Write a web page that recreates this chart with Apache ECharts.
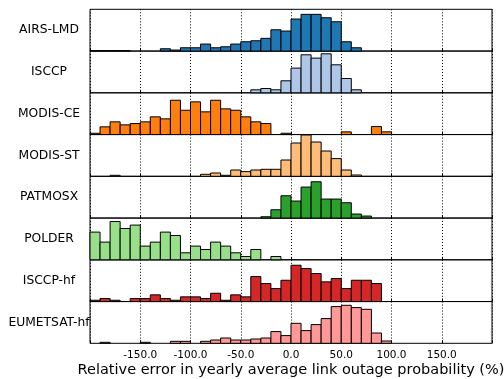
<!DOCTYPE html>
<html><head><meta charset="utf-8">
<script src="https://cdn.jsdelivr.net/npm/echarts@6/dist/echarts.min.js"></script>
<style>html,body{margin:0;padding:0;background:#fff}#c{width:504px;height:379px}</style>
</head><body><div id="c"></div>
<script>
// Bin starts (width 10 %)
const binStarts = [-200,-190,-180,-170,-160,-150,-140,-130,-120,-110,-100,-90,-80,-70,-60,-50,-40,-30,-20,-10,0,10,20,30,40,50,60,70,80,90,100,110,120,130,140,150,160,170,180,190];
const binWidth = 10;
const datasets = ['AIRS-LMD','ISCCP','MODIS-CE','MODIS-ST','PATMOSX','POLDER','ISCCP-hf','EUMETSAT-hf'];
const colors = ['#1f77b4','#aec7e8','#ff7f0e','#ffbb78','#2ca02c','#98df8a','#d62728','#ff9896'];
// relative frequencies (arbitrary units, panel max = 41.75)
const airsLmd  = [0.4,0.4,0.4,0.4,0,0,0,2.3,1,3.3,3.3,7,3.3,4.3,7,9.3,10.3,12.7,21.3,20,32,36.7,36.7,33.3,29.3,9.3,3.3,0,0,0,0,0,0,0,0,0,0,0,0,0];
const isccp    = [0,0,0,0,0,0,0,0,0,0,0,0,0,0,0,0,3,4.3,3,12,24.7,38,34.7,39,28,14.3,3,0,0,0,0,0,0,0,0,0,0,0,0,0];
const modisCe  = [1.3,7.7,12.7,9.7,11,12.7,17.7,15.7,34.3,24.3,32.7,22.7,34.3,25.7,24.3,17.7,12.7,11,0,1.3,0,0,0,0,0,2.7,0,0,8,2.7,0,0,0,0,0,0,0,0,0,0];
const modisSt  = [0,0,1,0,0,0,0,0,0,0,0,2,3.3,1,6.3,4.7,6.3,7,7,16.3,33.3,41.3,34.3,25.3,17.7,6.3,1.3,0,0,0,0,0,0,0,0,0,0,0,0,0];
const patmosx  = [0,0,0,0,0,0,0,0,0,0,0,0,0,0,0,0,0,1.3,8.3,22.3,17,31,36.3,19,19,15.3,4,2,0,0,0,0,0,0,0,0,0,0,0,0];
const polder   = [27.7,17.7,38.3,31.3,34.7,13.7,17.7,27.7,24.3,7,13.7,10.3,17.7,13.7,7,3.3,10.3,0,3.3,0,0,0,0,0,0,0,0,0,0,0,0,0,0,0,0,0,0,0,0,0];
const isccpHf  = [1.3,3,1.3,0,3,3,6.7,3,1.3,4.7,4.7,3,8.3,1.3,6.7,4.7,25,18,13,21.3,36.3,33,28,19.7,23,13,21.3,21.3,18,0,0,0,0,0,0,0,0,0,0,0];
const eumetsat = [0,1,0,0,0,1,0,0,2,2,0,2,3.3,5.3,3.3,3.3,4.3,5.3,11.7,7.7,20,12.7,18.7,24.7,36.7,38,35.7,34,10.3,2.3,0,0,0,0,0,0,0,0,0,0];
const series = [airsLmd,isccp,modisCe,modisSt,patmosx,polder,isccpHf,eumetsat];
const xTicks = [-150,-100,-50,0,50,100,150];
const xLabel = 'Relative error in yearly average link outage probability (%)';

const top0 = 9.3, panelH = 41.75, left = 90, right = 12, yMax = 41.75;
const grids=[], xAxes=[], yAxes=[], ser=[], graphics=[];
const font = 'DejaVu Sans';
datasets.forEach((name,i)=>{
  const last = i === datasets.length-1;
  grids.push({left:left, right:right, top:top0+i*panelH, height:panelH, show:true, borderColor:'#000', borderWidth:1, backgroundColor:'transparent', outerBoundsMode:'none', containLabel:false});
  xAxes.push({type:'value', gridIndex:i, min:-200, max:200, interval:50,
    axisLine:{show:false}, axisTick:{show:true, inside:true, length:3, lineStyle:{color:'#000'}},
    splitLine:{show:true, lineStyle:{color:'#000', type:[1,2], width:1}},
    axisLabel:{show:last, color:'#000', fontFamily:font, fontSize:10.5, margin:6,
      formatter:v=> xTicks.includes(v) ? v.toFixed(1) : ''},
    name: last ? xLabel : '', nameLocation:'middle', nameGap:19,
    nameTextStyle:{color:'#000', fontFamily:font, fontSize:14.5, verticalAlign:'top'}});
  yAxes.push({type:'value', gridIndex:i, min:0, max:yMax, show:false});
  const data = binStarts.map((b,k)=>[b, b+binWidth, series[i][k]]).filter(d=>d[2]>0);
  ser.push({type:'custom', xAxisIndex:i, yAxisIndex:i, data:data,
    encode:{x:[0,1], y:2},
    renderItem:(params, api)=>{
      const p0 = api.coord([api.value(0), 0]);
      const p1 = api.coord([api.value(1), api.value(2)]);
      return {type:'rect', shape:{x:p0[0], y:p1[1], width:p1[0]-p0[0], height:p0[1]-p1[1]},
        style:{fill:colors[i], stroke:'#000', lineWidth:1}};
    }});
  graphics.push({type:'text', x:49, y:top0+i*panelH+panelH/2,
    style:{text:name, fill:'#000', font:'12.3px "DejaVu Sans"', textAlign:'center', textVerticalAlign:'middle'}});
});
const chart = echarts.init(document.getElementById('c'), null, {renderer:'canvas'});
chart.setOption({animation:false, grid:grids, xAxis:xAxes, yAxis:yAxes, series:ser, graphic:graphics});
</script></body></html>
